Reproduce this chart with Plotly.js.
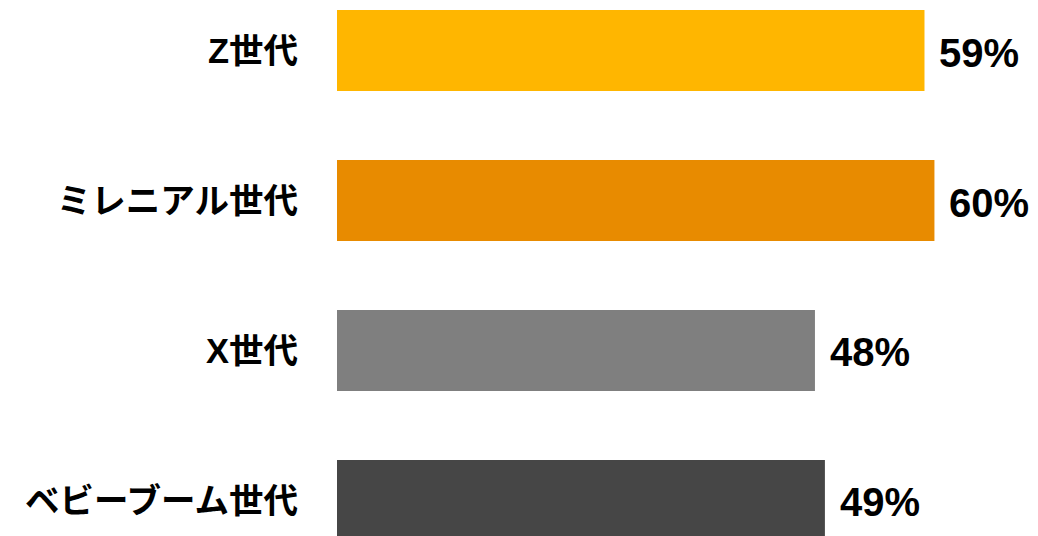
<!DOCTYPE html>
<html>
<head>
<meta charset="utf-8">
<script src="https://cdn.plot.ly/plotly-3.0.1.min.js"></script>
<style>html,body{margin:0;padding:0;background:#fff;}#chart{width:1038px;height:536px;}</style>
</head>
<body>
<div id="chart"></div>
<script>
const categories = ["Z世代", "ミレニアル世代", "X世代", "ベビーブーム世代"];
const values = [59, 60, 48, 49];
const valueLabels = ["59%", "60%", "48%", "49%"];
const colors = ["#FFB600", "#E88B00", "#7F7F7F", "#464646"];

const FONT = "'Liberation Sans', Arial, 'Noto Sans CJK JP', sans-serif";

const trace = {
  type: "bar",
  orientation: "h",
  x: values,
  y: categories,
  marker: {color: colors},
  width: 0.54,
  hoverinfo: "none"
};

const annotations = values.map((v, i) => ({
  x: v, y: categories[i], xref: "x", yref: "y",
  text: "<b>" + valueLabels[i] + "</b>",
  showarrow: false, xanchor: "left", yanchor: "middle",
  xshift: 13, yshift: -2,
  font: {family: FONT, size: 40, color: "#000"}
}));

const layout = {
  width: 1038, height: 536,
  margin: {l: 337, r: 0, t: 0, b: 0},
  paper_bgcolor: "#fff", plot_bgcolor: "#fff",
  showlegend: false,
  xaxis: {range: [0, 70.4], visible: false, fixedrange: true},
  yaxis: {
    type: "category",
    range: [3.237, -0.337],
    showgrid: false, zeroline: false, showline: false, ticks: "",
    ticklabelstandoff: 38,
    tickfont: {family: FONT, size: 34.5, color: "#000", weight: "bold"}
  },
  annotations: annotations
};

Plotly.newPlot("chart", [trace], layout, {displayModeBar: false, staticPlot: true});
</script>
</body>
</html>
